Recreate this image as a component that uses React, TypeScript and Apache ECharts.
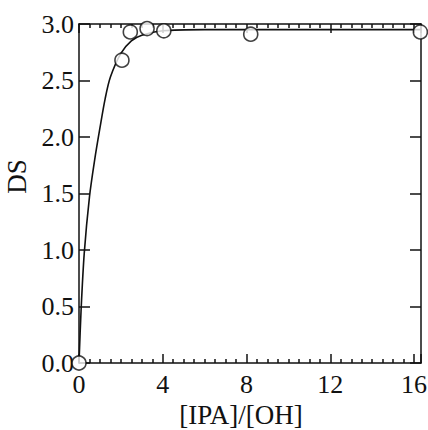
import React, { useEffect, useRef } from "react";
import * as echarts from "echarts";

const pointX = [0, 2.05, 2.45, 3.25, 4.05, 8.2, 16.3];
const pointY = [0, 2.68, 2.93, 2.96, 2.94, 2.91, 2.93];

const curveX = [0, 0.1, 0.25, 0.5, 0.75, 1.0, 1.25, 1.5, 2.0, 2.5, 3.0, 4.0, 6.0, 8.0, 12.0, 16.33];
const curveY = [0, 0.47, 0.97, 1.47, 1.8, 2.08, 2.34, 2.53, 2.74, 2.85, 2.9, 2.94, 2.95, 2.95, 2.95, 2.95];

const xMajorTicks = [0, 4, 8, 12, 16];
const yTicks = [0, 0.5, 1.0, 1.5, 2.0, 2.5, 3.0];

const X_MAX = 16.33;
const FONT = "Liberation Serif";

export default function App() {
  const ref = useRef<HTMLDivElement>(null);
  useEffect(() => {
    if (!ref.current) return;
    const chart = echarts.init(ref.current, null, { renderer: "svg" });
    const black = "#111";
    const lineStyle = { color: black, width: 1.5 };
    const baseX = {
      type: "value",
      min: 0,
      max: X_MAX,
      interval: 4,
      splitLine: { show: false },
      minorSplitLine: { show: false },
      axisLine: { show: true, onZero: false, lineStyle },
      axisTick: { show: true, inside: true, length: 9, lineStyle },
      minorTick: { show: true, splitNumber: 8, length: 4, lineStyle },
    };
    const baseY = {
      type: "value",
      min: 0,
      max: 3,
      interval: 0.5,
      splitLine: { show: false },
      axisLine: { show: true, onZero: false, lineStyle },
      axisTick: { show: true, inside: true, length: 11, lineStyle },
    };
    chart.setOption({
      animation: false,
      backgroundColor: "#fff",
      grid: {
        left: 79,
        right: 7,
        top: 24,
        bottom: 67,
        containLabel: false,
        outerBoundsMode: "none",
      },
      xAxis: [
        {
          ...baseX,
          position: "bottom",
          axisLabel: {
            show: true,
            margin: 8,
            color: black,
            fontFamily: FONT,
            fontSize: 26,
            showMaxLabel: false,
            formatter: (v: number) => (xMajorTicks.includes(v) ? String(v) : ""),
          },
          name: "[IPA]/[OH]",
          nameLocation: "middle",
          nameGap: 36,
          nameTextStyle: { color: black, fontFamily: FONT, fontSize: 27, padding: [0, 18, 0, 0] },
        },
        {
          ...baseX,
          position: "top",
          axisLabel: { show: false },
        },
      ],
      yAxis: [
        {
          ...baseY,
          position: "left",
          axisLabel: {
            show: true,
            margin: 5,
            color: black,
            fontFamily: FONT,
            fontSize: 26,
            formatter: (v: number) => (yTicks.includes(v) ? v.toFixed(1) : ""),
          },
          name: "DS",
          nameLocation: "middle",
          nameGap: 47,
          nameTextStyle: { color: black, fontFamily: FONT, fontSize: 27, padding: [0, 0, 0, 34] },
        },
        {
          ...baseY,
          position: "right",
          axisLabel: { show: false },
        },
      ],
      series: [
        {
          type: "line",
          xAxisIndex: 0,
          yAxisIndex: 0,
          data: curveX.map((x, i) => [x, curveY[i]]),
          smooth: 0.3,
          showSymbol: false,
          symbol: "none",
          lineStyle: { color: black, width: 1.6 },
          clip: false,
          z: 2,
        },
        {
          type: "scatter",
          xAxisIndex: 0,
          yAxisIndex: 0,
          data: pointX.map((x, i) => [x, pointY[i]]),
          symbol: "circle",
          symbolSize: 14,
          itemStyle: { color: "#fff", borderColor: black, borderWidth: 1.6 },
          clip: false,
          z: 5,
        },
      ],
    });
    return () => chart.dispose();
  }, []);
  return (
    <div
      ref={ref}
      style={{ position: "fixed", left: 0, top: 0, width: 428, height: 430, background: "#fff" }}
    />
  );
}
